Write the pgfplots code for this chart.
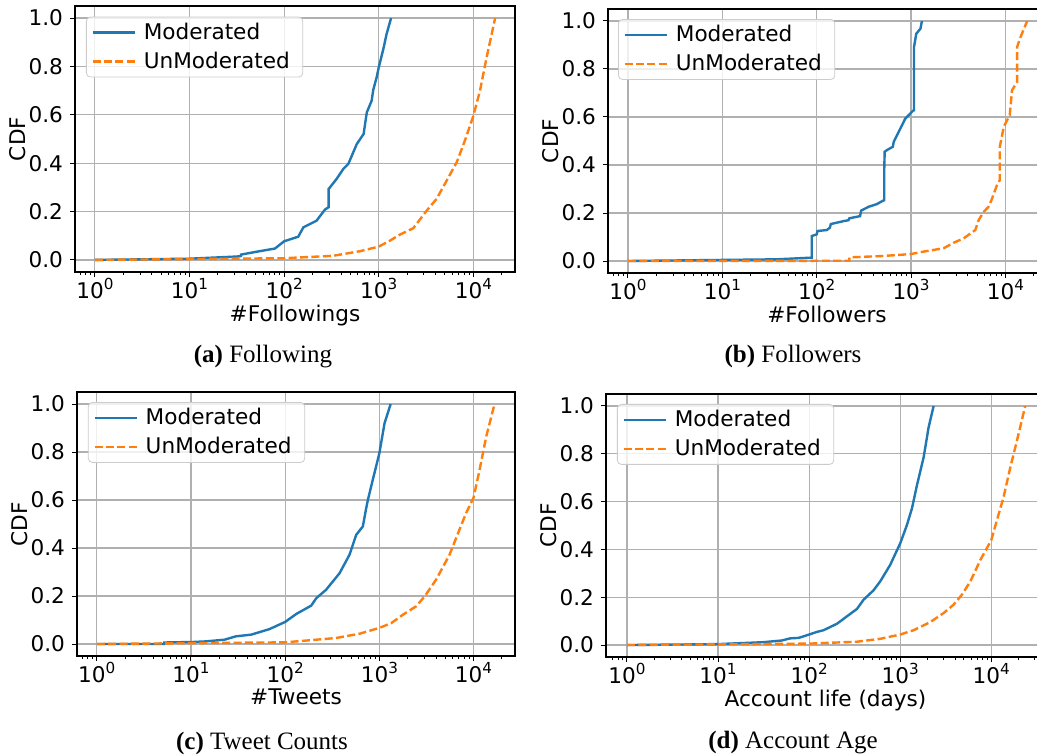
\documentclass[border=0pt]{standalone}
\usepackage{pgfplots}
\pgfplotsset{compat=1.18}
\usepackage{fontspec}
\setmainfont{DejaVu Sans}
\newfontfamily\capfont{Liberation Serif}
\definecolor{mblue}{HTML}{1F77B4}
\definecolor{morange}{HTML}{FF7F0E}
\definecolor{mgrid}{HTML}{B0B0B0}
\newcommand\tp[1]{10\raisebox{0.8ex}{\fontsize{7.6pt}{8pt}\selectfont #1}}
\pgfplotsset{
  cdfax/.style={
    scale only axis,
    ymin=-0.05, ymax=1.05,
    font=\fontsize{10.8pt}{12.5pt}\selectfont,
    xtick={1,10,100,1000,10000},
    xticklabels={\tp{0},\tp{1},\tp{2},\tp{3},\tp{4}},
    minor xtick={0.7,0.8,0.9,2,3,4,5,6,7,8,9,20,30,40,50,60,70,80,90,200,300,400,500,600,700,800,900,2000,3000,4000,5000,6000,7000,8000,9000,20000,30000},
    ytick={0,0.2,0.4,0.6,0.8,1.0},
    yticklabels={0.0,0.2,0.4,0.6,0.8,1.0},
    tick align=outside, tick pos=left,
    major tick length=2.5pt, minor tick length=1.5pt,
    xmajorgrids, ymajorgrids,
    major grid style={color=mgrid, line width=0.6pt},
    axis line style={line width=0.6pt},
    every tick/.style={black, line width=0.5pt},
    xticklabel style={yshift=3pt},
    xlabel style={yshift=4pt},
    ylabel style={yshift=-5.5pt},
    ylabel={CDF},
    legend cell align=left,
    legend style={at={(0.025,0.96)}, anchor=north west, draw=black!20, fill=white, fill opacity=0.8, text opacity=1, rounded corners=2pt, inner xsep=2.5pt, inner ysep=3pt, row sep=5pt, nodes={inner xsep=4pt, inner ysep=0pt, text height=8pt, text depth=1.5pt}},
  },
  legend image code/.code={\draw[#1] (0pt,0pt) -- (21pt,0pt);},
  mod/.style={mblue, line width=1.2pt},
  unmod/.style={morange, line width=1.2pt, dash pattern=on 4pt off 1.7pt},
}
\begin{document}
\begin{tikzpicture}
\clip (0,0) rectangle (518.5pt,-377pt);
\fill[white] (0,0) rectangle (518.5pt,-377pt);
% (a)
\begin{semilogxaxis}[cdfax, at={(37.5pt,-136pt)}, anchor=south west, width=220pt, height=133pt,
  xmin=0.6166, xmax=27542, xlabel={\#Followings}]
\addplot[mod] coordinates {(1,0) (10,0.005) (31.6,0.014) (35,0.016) (35,0.022) (55,0.036) (80,0.047) (100,0.077) (141,0.096) (160,0.135) (220,0.162) (270,0.208) (295,0.218) (295,0.293) (359,0.335) (422,0.376) (477,0.397) (586,0.479) (692,0.521) (748,0.61) (841,0.658) (875,0.703) (950,0.755) (1000,0.796) (1118,0.872) (1210,0.934) (1350,1.0)};
\addlegendentry{Moderated}
\addplot[unmod] coordinates {(1,0) (100,0.007) (330,0.017) (633,0.036) (1000,0.055) (1318,0.08) (1680,0.105) (2318,0.131) (3213,0.204) (4080,0.252) (5222,0.328) (6670,0.404) (8130,0.493) (10000,0.596) (11750,0.70) (13800,0.837) (16980,1.0)};
\addlegendentry{UnModerated}
\end{semilogxaxis}
% (b)
\begin{semilogxaxis}[cdfax, at={(304pt,-136.5pt)}, anchor=south west, width=219pt, height=132pt,
  xmin=0.614, xmax=26915, xlabel={\#Followers}, legend style={at={(0.023,0.962)}}]
\addplot[mod] coordinates {(1,0) (37.6,0.007) (88.5,0.014) (88.5,0.104) (100,0.111) (102,0.125) (128,0.129) (138,0.139) (141,0.154) (192,0.166) (217,0.17) (222,0.178) (288,0.187) (296,0.21) (355,0.226) (434,0.237) (502,0.251) (519,0.253) (519,0.372) (525,0.455) (554,0.462) (641,0.476) (655,0.497) (755,0.545) (867,0.593) (1047,0.626) (1075,0.628) (1075,0.892) (1135,0.947) (1258,0.968) (1303,1.0)};
\addlegendentry{Moderated}
\addplot[unmod] coordinates {(1,0) (222,0.001) (222,0.015) (510,0.021) (1000,0.029) (1350,0.039) (2213,0.053) (2820,0.076) (3600,0.094) (4790,0.129) (5210,0.171) (5890,0.205) (6620,0.226) (7120,0.254) (8130,0.316) (8710,0.337) (8710,0.476) (9600,0.559) (10000,0.573) (11100,0.607) (11760,0.712) (13300,0.746) (13300,0.892) (14450,0.933) (17000,1.0)};
\addlegendentry{UnModerated}
\end{semilogxaxis}
% (c)
\begin{semilogxaxis}[cdfax, at={(38.5pt,-328pt)}, anchor=south west, width=219pt, height=132pt,
  xmin=0.6166, xmax=27542, xlabel={\#Tweets}, legend style={at={(0.025,0.962)}}]
\addplot[mod] coordinates {(1,0) (5.2,0.0) (5.2,0.006) (6,0.007) (10,0.008) (14.5,0.011) (22.7,0.018) (30,0.032) (43.6,0.039) (68,0.062) (100,0.092) (131,0.125) (189,0.16) (214,0.191) (272,0.226) (378,0.295) (482,0.372) (568,0.455) (668,0.49) (720,0.56) (755,0.6) (851,0.684) (1000,0.795) (1135,0.92) (1318,1.0)};
\addlegendentry{Moderated}
\addplot[unmod] coordinates {(1,0) (100,0.007) (347,0.025) (617,0.043) (1000,0.067) (1336,0.087) (1778,0.122) (2455,0.157) (3020,0.198) (4000,0.268) (5560,0.372) (7080,0.476) (8320,0.545) (10000,0.61) (11580,0.725) (13620,0.864) (16700,1.0)};
\addlegendentry{UnModerated}
\end{semilogxaxis}
% (d)
\begin{semilogxaxis}[cdfax, at={(303pt,-328.5pt)}, anchor=south west, width=219.5pt, height=131.5pt,
  xmin=0.589, xmax=38905, xlabel={Account life (days)}, legend style={at={(0.025,0.962)}}]
\addplot[mod] coordinates {(1,0) (10,0.004) (31.6,0.012) (50,0.019) (62,0.028) (77,0.03) (100,0.044) (122,0.055) (144,0.062) (202,0.089) (260,0.12) (335,0.151) (397,0.19) (510,0.229) (603,0.266) (776,0.335) (1000,0.425) (1183,0.501) (1345,0.571) (1527,0.668) (1808,0.785) (2050,0.91) (2328,1.0)};
\addlegendentry{Moderated}
\addplot[unmod] coordinates {(1,0) (100,0.006) (335,0.014) (603,0.026) (1000,0.044) (1403,0.062) (2140,0.096) (2999,0.134) (3863,0.169) (4767,0.211) (5890,0.266) (7590,0.356) (10000,0.439) (11530,0.522) (13650,0.619) (16200,0.744) (19140,0.855) (23600,1.0)};
\addlegendentry{UnModerated}
\end{semilogxaxis}
% captions
\node[font=\capfont\fontsize{12.5pt}{14pt}\selectfont] at (131.5pt,-178.5pt) {\textbf{(a)} Following};
\node[font=\capfont\fontsize{12.5pt}{14pt}\selectfont] at (396.5pt,-178pt) {\textbf{(b)} Followers};
\node[font=\capfont\fontsize{12.5pt}{14pt}\selectfont] at (131pt,-371.5pt) {\textbf{(c)} Tweet Counts};
\node[font=\capfont\fontsize{12.5pt}{14pt}\selectfont] at (396.5pt,-371.5pt) {\textbf{(d)} Account Age};
\end{tikzpicture}
\end{document}
